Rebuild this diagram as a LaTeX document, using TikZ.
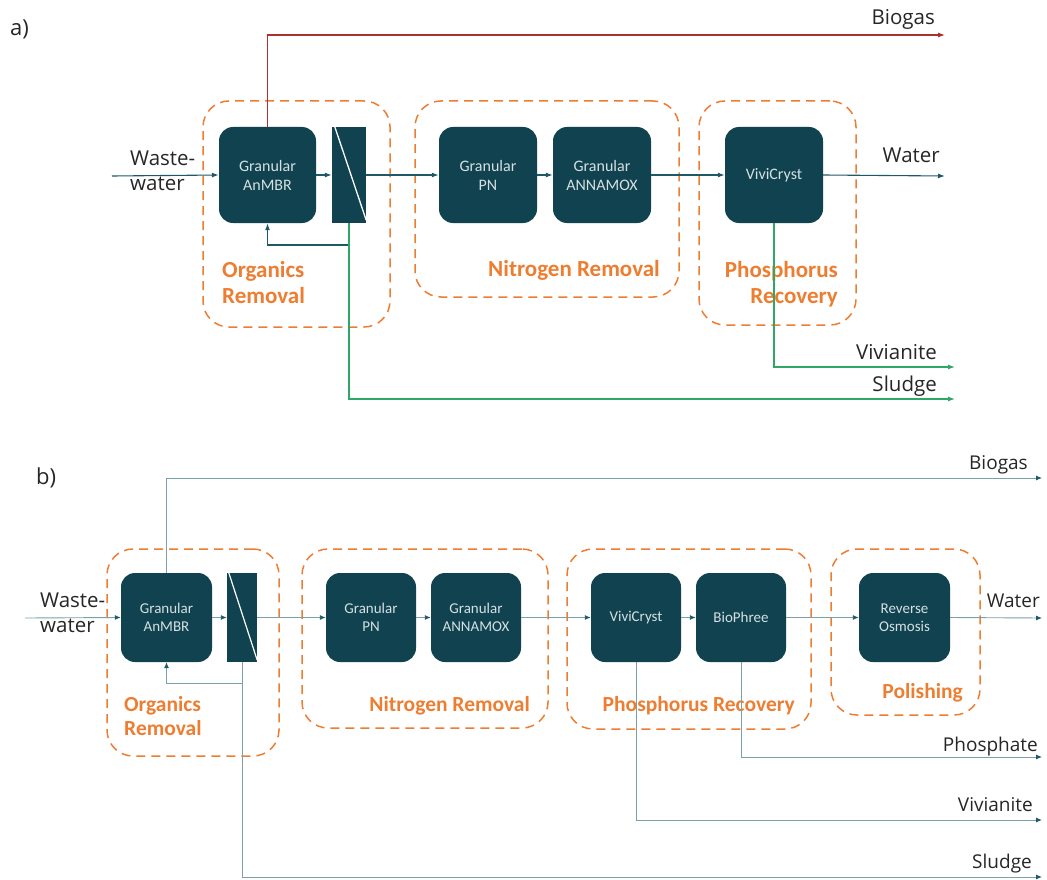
\documentclass[tikz,border=0pt]{standalone}
\usepackage{fontspec}
\setmainfont{Carlito}
\newfontfamily\lab{Open Sans}
\usetikzlibrary{arrows.meta}
\definecolor{boxc}{HTML}{10434F}
\definecolor{orng}{HTML}{ED7D31}
\definecolor{flowa}{HTML}{1F5866}
\definecolor{flowb}{HTML}{7AA0AA}
\definecolor{redl}{HTML}{A8322D}
\definecolor{grn}{HTML}{2FA866}
\definecolor{boxtxt}{HTML}{D5E0E3}
\begin{document}
\begin{tikzpicture}[x=1pt,y=-1pt,
  unit/.style={fill=boxc, draw=none, rounded corners=14pt, text=boxtxt, align=center, inner sep=0pt, font=\fontsize{16}{19}\selectfont},
  unitb/.style={unit, font=\fontsize{15}{18}\selectfont},
  memb/.style={fill=boxc, draw=none, inner sep=0pt},
  grp/.style={draw=orng, dash pattern=on 9pt off 6pt, line width=1.5pt, rounded corners=26pt, inner sep=0pt},
  glab/.style={text=orng, font=\bfseries\fontsize{23}{26}\selectfont, inner sep=0pt},
  glabb/.style={glab, font=\bfseries\fontsize{21.5}{24.5}\selectfont},
  olab/.style={font=\lab\fontsize{20.5}{25}\selectfont, text=black!85, inner sep=0pt},
  olabb/.style={font=\lab\fontsize{19}{24}\selectfont, text=black!85, inner sep=0pt},
  plab/.style={font=\lab\fontsize{22}{26}\selectfont, text=black!85, inner sep=0pt},
  tipa/.style={-{Latex[length=7pt,width=5pt]}},
  fa/.style={draw=flowa, line width=1.1pt, tipa},
  ra/.style={draw=redl, line width=1.1pt, -{Latex[length=7pt,width=5pt,color=redl]}},
  ga/.style={draw=grn, line width=1.1pt, -{Latex[length=7pt,width=5pt,color=grn]}},
  fb/.style={draw=flowb, line width=0.9pt, -{Latex[length=6pt,width=5pt,color=flowa]}}
]
\useasboundingbox (0,0) rectangle (1047,880);

% ================= panel a =================
\node[plab, anchor=north west] (pa) at (10,20) {a)};

\node[grp, minimum width=187pt, minimum height=226pt] (ga1) at (296.5,214) {};
\node[grp, minimum width=264pt, minimum height=196pt] (ga2) at (547,199) {};
\node[grp, minimum width=157pt, minimum height=224pt] (ga3) at (777.5,213) {};

\node[unit, minimum width=97pt, minimum height=96pt] (anmbr) at (267.5,175) {Granular\\AnMBR};
\node[memb, minimum width=34pt, minimum height=96pt] (mem) at (349,175) {};
\draw[white, line width=1.3pt] ([xshift=3pt]mem.north west) -- ([yshift=3pt]mem.south east);
\node[unit, minimum width=98pt, minimum height=96pt] (pn) at (488,175) {Granular\\PN};
\node[unit, minimum width=98pt, minimum height=96pt] (anx) at (602,175) {Granular\\ANNAMOX};
\node[unit, minimum width=98pt, minimum height=96pt] (vivi) at (774,175) {ViviCryst};

\node[glab, align=left, anchor=north west] (la1) at (222,261) {Organics\\Removal};
\node[glab, anchor=base east] (la2) at (660,276) {Nitrogen Removal};
\node[glab, align=right, anchor=north east] (la3) at (838,261) {Phosphorus\\Recovery};

\node[olab, align=left, anchor=west] (wwa) at (130,171) {Waste-\\water};
\coordinate (ina) at (112,176);
\coordinate (bga) at (945,35);
\coordinate (wta) at (945,176);
\coordinate (vva) at (955,367);
\coordinate (sla) at (955,399);
\coordinate (rca) at (349,245);

\draw[fa] (ina) -- (anmbr.west);
\draw[fa] (anmbr.east) -- (mem.west);
\draw[fa] (mem.east) -- (pn.west);
\draw[fa] (pn.east) -- (anx.west);
\draw[fa] (anx.east) -- (vivi.west);
\draw[fa] (vivi.east) -- (wta);
\draw[ra] (anmbr.north) |- (bga);
\draw[fa] (rca) -| (anmbr.south);
\draw[ga] (mem.south) |- (sla);
\draw[ga] (vivi.south) |- (vva);

\node[olab, anchor=base east] (tbga) at (935,25) {Biogas};
\node[olab, anchor=base east] (twta) at (940,163) {Water};
\node[olab, anchor=base east] (tvva) at (937,359) {Vivianite};
\node[olab, anchor=base east] (tsla) at (937,391) {Sludge};

% ================= panel b =================
\node[plab, anchor=north west] (pb) at (36,468) {b)};

\node[grp, minimum width=172pt, minimum height=207pt] (gb1) at (193,652.5) {};
\node[grp, minimum width=246pt, minimum height=179pt] (gb2) at (425,638.5) {};
\node[grp, minimum width=244pt, minimum height=180pt] (gb3) at (689,639) {};
\node[grp, minimum width=149pt, minimum height=166pt] (gb4) at (905.5,632) {};

\node[unitb, minimum width=91pt, minimum height=89pt] (anmbrb) at (166.5,617.5) {Granular\\AnMBR};
\node[memb, minimum width=30pt, minimum height=89pt] (memb) at (242,617.5) {};
\draw[white, line width=1.2pt] ([xshift=2pt]memb.north west) -- ([yshift=2pt]memb.south east);
\node[unitb, minimum width=90pt, minimum height=89pt] (pnb) at (371,617.5) {Granular\\PN};
\node[unitb, minimum width=90pt, minimum height=89pt] (anxb) at (476,617.5) {Granular\\ANNAMOX};
\node[unitb, minimum width=90pt, minimum height=89pt] (vivib) at (636,617.5) {ViviCryst};
\node[unitb, minimum width=90pt, minimum height=89pt] (biop) at (741,617.5) {BioPhree};
\node[unitb, minimum width=91pt, minimum height=89pt] (ro) at (904.5,617.5) {Reverse\\Osmosis};

\node[glabb, align=left, anchor=north west] (lb1) at (124,696) {Organics\\Removal};
\node[glabb, anchor=base east] (lb2) at (530,711) {Nitrogen Removal};
\node[glabb, anchor=base east] (lb3) at (795,711) {Phosphorus Recovery};
\node[glabb, anchor=base east] (lb4) at (963,698) {Polishing};

\node[olab, align=left, anchor=west] (wwb) at (40,613) {Waste-\\water};
\coordinate (inb) at (25,618);
\coordinate (bgb) at (1042,478);
\coordinate (wtb) at (1042,618);
\coordinate (phb) at (1042,757);
\coordinate (vvb) at (1042,820);
\coordinate (slb) at (1042,877);
\coordinate (rcb) at (242,683);

\draw[fb] (inb) -- (anmbrb.west);
\draw[fb] (anmbrb.east) -- (memb.west);
\draw[fb] (memb.east) -- (pnb.west);
\draw[fb] (pnb.east) -- (anxb.west);
\draw[fb] (anxb.east) -- (vivib.west);
\draw[fb] (vivib.east) -- (biop.west);
\draw[fb] (biop.east) -- (ro.west);
\draw[fb] (ro.east) -- (wtb);
\draw[fb] (anmbrb.north) |- (bgb);
\draw[fb] (rcb) -| (anmbrb.south);
\draw[fb] (memb.south) |- (slb);
\draw[fb] (vivib.south) |- (vvb);
\draw[fb] (biop.south) |- (phb);

\node[olabb, anchor=base east] (tbgb) at (1028,469) {Biogas};
\node[olabb, anchor=base east] (twtb) at (1040,607) {Water};
\node[olabb, anchor=base east] (tphb) at (1038,751) {Phosphate};
\node[olabb, anchor=base east] (tvvb) at (1033,811) {Vivianite};
\node[olabb, anchor=base east] (tslb) at (1032,868) {Sludge};
\end{tikzpicture}
\end{document}
